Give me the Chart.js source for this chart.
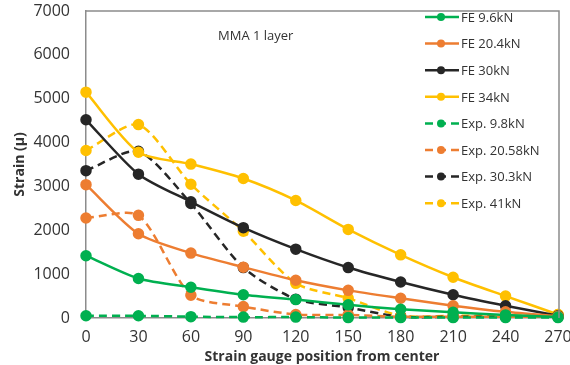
<!DOCTYPE html>
<html>
<head>
<meta charset="utf-8">
<script src="https://cdn.jsdelivr.net/npm/chart.js@4.4.1/dist/chart.umd.min.js"></script>
<style>
  html, body { margin: 0; padding: 0; background: #fff; }
  #wrap { width: 570px; height: 365px; position: relative; }
</style>
</head>
<body>
<div id="wrap"><canvas id="strainChart"></canvas></div>
<script>
// posiciones de galgas (mm desde el centro)
const positions = [0, 30, 60, 90, 120, 150, 180, 210, 240, 270];
const yTicks = [0, 1000, 2000, 3000, 4000, 5000, 6000, 7000];

// FE
const fe96 = [1420, 900, 700, 530, 420, 300, 200, 130, 70, 20];
const fe204 = [3040, 1920, 1480, 1160, 860, 630, 450, 280, 140, 40];
const fe30 = [4520, 3280, 2650, 2060, 1570, 1150, 820, 530, 280, 50];
const fe34 = [5150, 3780, 3510, 3180, 2680, 2020, 1440, 930, 500, 80];

// experimental
const exp98 = [50, 50, 30, 20, 20, 10, 10, 10, 10, 10];
const exp2058 = [2280, 2340, 520, 260, 80, 70, 30, 30, 30, 30];
const exp303 = [3360, 3800, 2610, 1150, 430, 240, 30, 30, 30, 30];
const exp41 = [3820, 4410, 3050, 1980, 790, 450, 50, 50, 50, 80];

const seriesNames = ['FE 9.6kN', 'FE 20.4kN', 'FE 30kN', 'FE 34kN',
    'Exp. 9.8kN', 'Exp. 20.58kN', 'Exp. 30.3kN', 'Exp. 41kN'];
const seriesData = [fe96, fe204, fe30, fe34, exp98, exp2058, exp303, exp41];
const colors = ['#00B050', '#ED7D31', '#262626', '#FFC000'];

const datasets = seriesData.map((vals, i) => {
    const color = colors[i % 4];
    const dashed = i >= 4;
    return {
        label: seriesNames[i],
        data: vals,
        borderColor: color,
        backgroundColor: color,
        borderWidth: 2.5,
        borderDash: dashed ? [8, 5] : [],
        pointRadius: 4.5,
        pointHoverRadius: 4.5,
        pointBackgroundColor: color,
        pointBorderColor: color,
        tension: 0.25,
        fill: false
    };
});

// leyenda dentro del area + marco + texto
const extras = {
    id: 'extras',
    afterDraw(chart) {
        const ctx = chart.ctx;
        const a = chart.chartArea;
        ctx.save();
        ctx.strokeStyle = '#8c8c8c';
        ctx.lineWidth = 1.5;
        ctx.beginPath();
        ctx.moveTo(a.left, a.top);
        ctx.lineTo(a.right + 1, a.top);
        ctx.lineTo(a.right + 1, a.bottom);
        ctx.stroke();

        ctx.fillStyle = '#333';
        ctx.font = '13px "Open Sans"';
        ctx.textBaseline = 'middle';
        ctx.fillText('MMA 1 layer', 218, 36);

        chart.data.datasets.forEach((ds, i) => {
            const y = 17 + i * 26.6;
            ctx.strokeStyle = ds.borderColor;
            ctx.lineWidth = 2.5;
            ctx.setLineDash(ds.borderDash);
            ctx.beginPath();
            ctx.moveTo(425, y);
            ctx.lineTo(459, y);
            ctx.stroke();
            ctx.setLineDash([]);
            ctx.fillStyle = ds.borderColor;
            ctx.beginPath();
            ctx.arc(441, y, 4, 0, Math.PI * 2);
            ctx.fill();
            ctx.fillStyle = '#333';
            ctx.fillText(ds.label, 461, y + 1);
        });
        ctx.restore();
    }
};

new Chart(document.getElementById('strainChart'), {
    type: 'line',
    data: { labels: positions, datasets: datasets },
    options: {
        responsive: true,
        maintainAspectRatio: false,
        animation: false,
        layout: { padding: { top: 11, right: 12, left: 0, bottom: 0 } },
        plugins: {
            legend: { display: false },
            tooltip: { enabled: false }
        },
        elements: { line: { borderCapStyle: 'butt' } },
        clip: false,
        scales: {
            x: {
                grid: { display: false, drawTicks: false },
                border: { display: true, color: '#8c8c8c', width: 1.5 },
                ticks: { color: '#333', font: { family: 'Open Sans', size: 16 }, padding: 10, maxRotation: 0 },
                title: {
                    display: true,
                    text: 'Strain gauge position from center',
                    color: '#333',
                    font: { family: 'Open Sans', size: 14, weight: 'bold' },
                    padding: { top: 0, bottom: 0 }
                },
                afterFit(scale) { scale.height = 47; scale.paddingLeft = 0; scale.paddingRight = 0; }
            },
            y: {
                min: 0,
                max: 7000,
                afterBuildTicks(scale) { scale.ticks = yTicks.map(v => ({ value: v })); },
                grid: { display: false, drawTicks: false },
                border: { display: true, color: '#8c8c8c', width: 1.5 },
                ticks: {
                    color: '#333',
                    font: { family: 'Open Sans', size: 16 },
                    padding: 16,
                    callback: (v) => String(v)
                },
                title: {
                    display: true,
                    text: 'Strain (µ)',
                    color: '#333',
                    font: { family: 'Open Sans', size: 14, weight: 'bold' },
                    padding: { top: 12, bottom: 0 }
                },
                afterFit(scale) { scale.width = 86; scale.paddingTop = 0; scale.paddingBottom = 0; }
            }
        }
    },
    plugins: [extras]
});
</script>
</body>
</html>
